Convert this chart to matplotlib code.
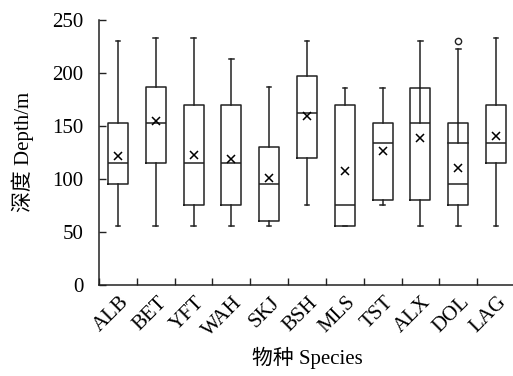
import matplotlib
matplotlib.use("Agg")
import matplotlib.pyplot as plt
import matplotlib.transforms as mtransforms
import numpy as np

plt.rcParams["font.family"] = ["Liberation Serif", "Noto Sans CJK SC"]
plt.rcParams["font.size"] = 15

species = ["ALB", "BET", "YFT", "WAH", "SKJ", "BSH", "MLS", "TST", "ALX", "DOL", "LAG"]
whisker_low = [55, 55, 55, 55, 55, 75, 55, 75, 55, 55, 55]
q1 = [95, 115, 75, 75, 60, 120, 55, 80, 80, 75, 115]
median = [115, 153, 115, 115, 95, 162, 75, 134, 153, 95, 134]
q3 = [153, 187, 170, 170, 130, 197, 170, 153, 186, 153, 170]
whisker_high = [230, 233, 233, 213, 187, 230, 186, 186, 230, 223, 233]
means = [121, 155, 122, 119, 101, 159, 107, 126, 138, 110, 140]
outliers = {"DOL": [230]}
# upper whisker drawn down into the box for a couple of species
whisker_inner = {"ALX": 153, "DOL": 134}
extra_line = {"DOL": 134}

stats = []
for i, name in enumerate(species):
    stats.append({
        "label": name,
        "whislo": whisker_low[i],
        "q1": q1[i],
        "med": median[i],
        "q3": q3[i],
        "whishi": whisker_high[i],
        "mean": means[i],
        "fliers": outliers.get(name, []),
    })

fig = plt.figure(figsize=(5.13, 3.76), dpi=100)
ax = fig.add_axes([99 / 513, 91.5 / 376, 416 / 513, 264.5 / 376])

lc = "#222222"
pos = np.arange(1, len(species) + 1)
ax.bxp(
    stats,
    positions=pos,
    widths=0.53,
    capwidths=0.12,
    showmeans=True,
    boxprops=dict(color=lc, linewidth=1.1),
    medianprops=dict(color=lc, linewidth=1.1),
    whiskerprops=dict(color=lc, linewidth=1.1),
    capprops=dict(color=lc, linewidth=1.1),
    meanprops=dict(marker="x", markeredgecolor="black", markersize=5.5, markeredgewidth=1.1),
    flierprops=dict(marker="o", markerfacecolor="none", markeredgecolor=lc, markersize=4.5, markeredgewidth=1.0),
)

for name, y0 in whisker_inner.items():
    i = species.index(name)
    ax.plot([pos[i], pos[i]], [y0, q3[i]], color=lc, linewidth=1.1)
for name, y0 in extra_line.items():
    i = species.index(name)
    ax.plot([pos[i] - 0.265, pos[i] + 0.265], [y0, y0], color=lc, linewidth=1.1)

ax.set_xlim(0.5, 11.5)
ax.set_ylim(0, 250)
ax.set_yticks([0, 50, 100, 150, 200, 250])
ax.tick_params(axis="y", direction="in", length=5, width=1.0, color=lc, pad=11)
ax.set_xticks(pos)
ax.set_xticklabels(species, rotation=45, ha="right", va="center", rotation_mode="anchor")
ax.tick_params(axis="x", which="major", length=0, pad=11)
ax.set_xticks(np.arange(0.5, 12, 1), minor=True)
ax.tick_params(axis="x", which="minor", direction="in", length=5, width=1.0, color=lc)

shift = mtransforms.ScaledTranslation(8 / 100, 0, fig.dpi_scale_trans)
for lbl in ax.get_xticklabels():
    lbl.set_transform(lbl.get_transform() + shift)

for s in ["top", "right"]:
    ax.spines[s].set_visible(False)
for s in ["left", "bottom"]:
    ax.spines[s].set_color(lc)
    ax.spines[s].set_linewidth(1.1)

ax.set_xlabel("物种 Species", labelpad=5)
ax.set_ylabel("深度 Depth/m", labelpad=13)

fig.savefig("out.png", dpi=100)
